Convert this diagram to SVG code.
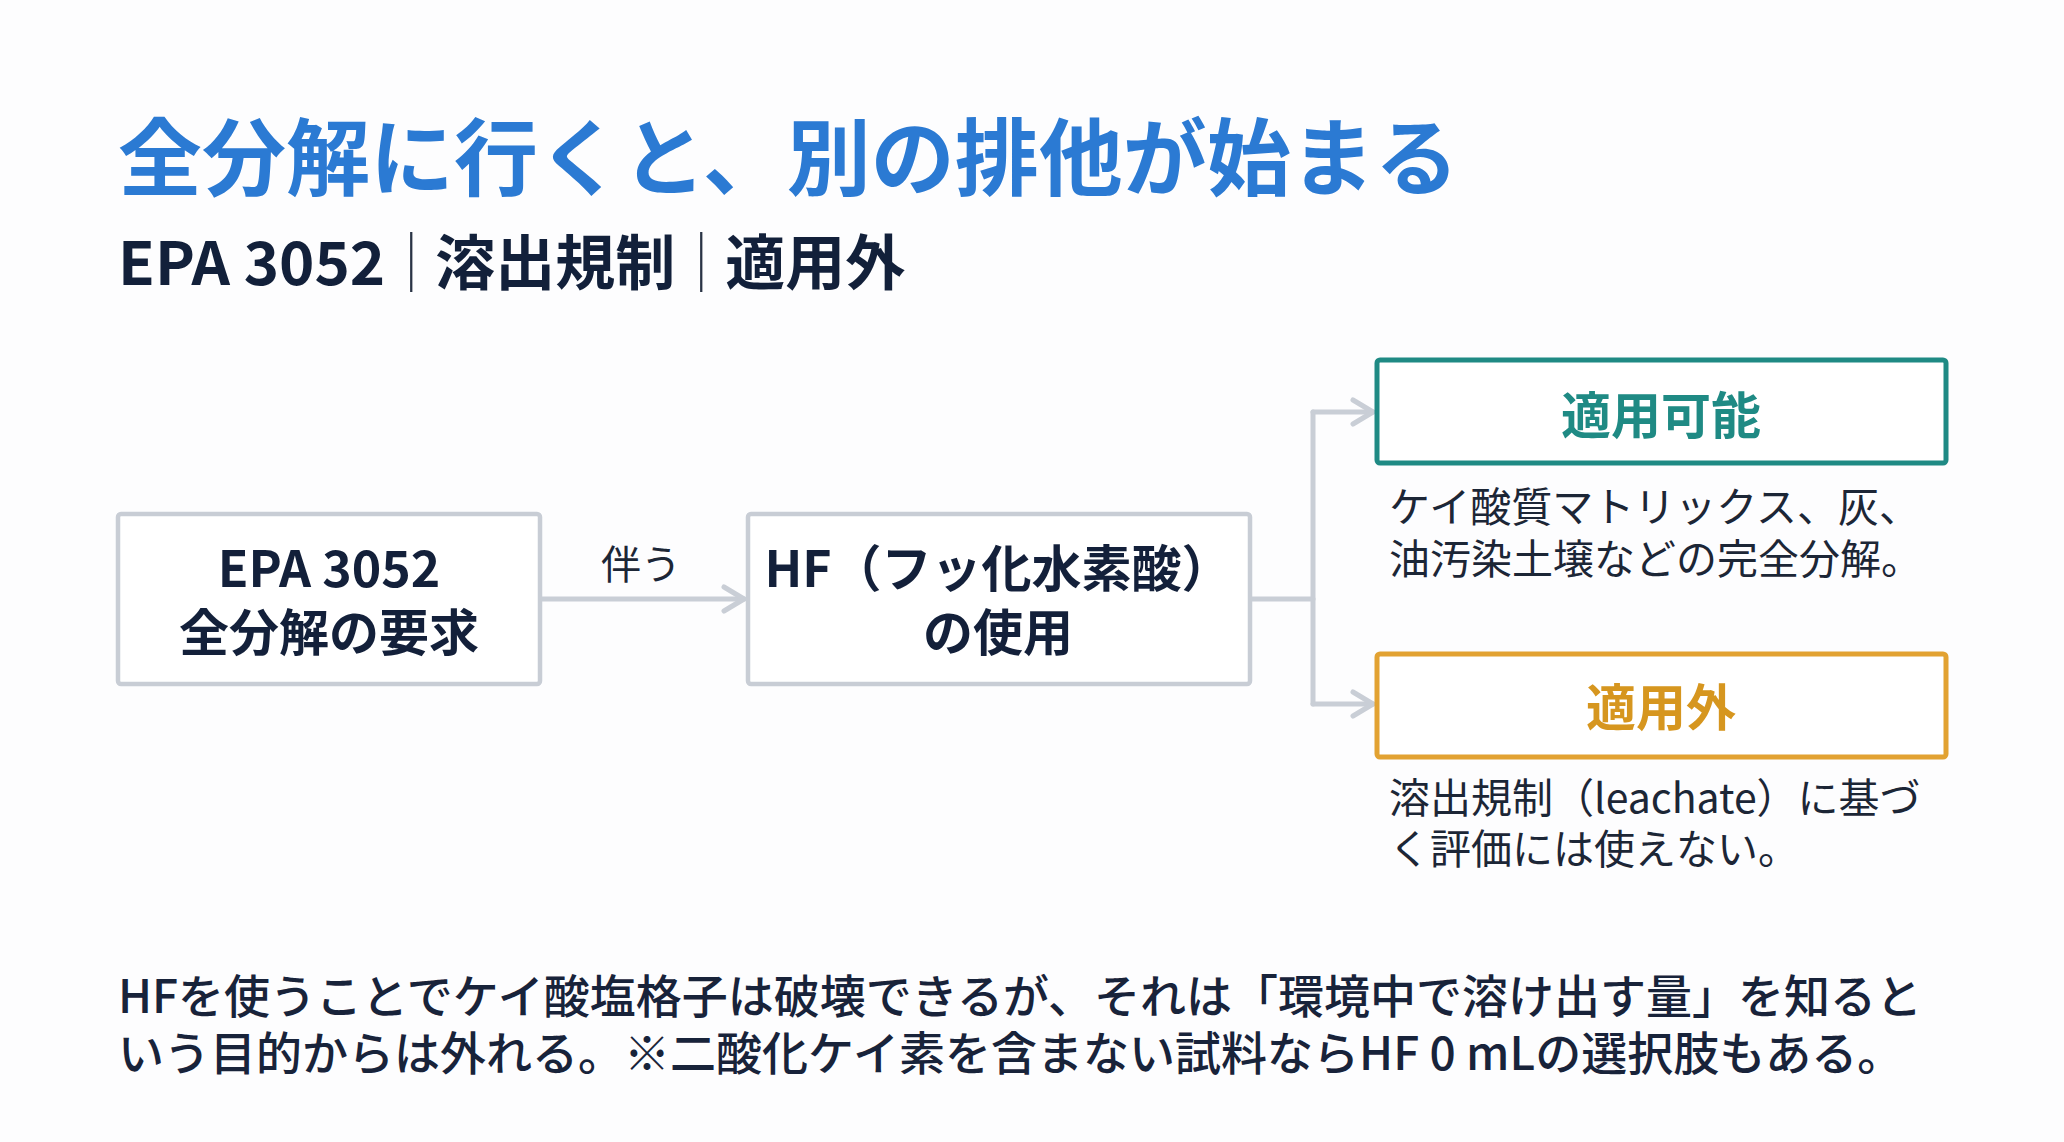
<svg xmlns="http://www.w3.org/2000/svg" width="2064" height="1142" viewBox="0 0 2064 1142">
  <defs>
    <style>
      text { font-family: 'Noto Sans CJK JP', 'Noto Sans', sans-serif; }
      .title { font-size: 84px; font-weight: 700; fill: #2B7AD3; }
      .sub { font-size: 60px; font-weight: 700; fill: #12203A; }
      .sep { font-weight: 300; fill: #2A3446; }
      .box { fill: #FFFFFF; stroke: #C8CDD5; stroke-width: 4.5; }
      .boxText { font-size: 50px; font-weight: 700; fill: #13203A; text-anchor: middle; }
      .label { font-size: 40px; font-weight: 400; fill: #1C2636; text-anchor: middle; }
      .desc { font-size: 41px; font-weight: 400; fill: #1C2636; }
      .body { font-size: 46px; font-weight: 500; fill: #18233A; }
      .conn { fill: none; stroke: #C9CED6; stroke-width: 5; stroke-linecap: round; stroke-linejoin: round; }
    </style>
    <marker id="chev" viewBox="0 0 30 30" refX="26" refY="15" markerWidth="30" markerHeight="30" markerUnits="userSpaceOnUse" orient="auto">
      <path d="M6,3 L26,15 L6,27" fill="none" stroke="#C9CED6" stroke-width="5" stroke-linecap="round" stroke-linejoin="round"/>
    </marker>
  </defs>

  <rect x="0" y="0" width="2064" height="1142" fill="#FDFDFE"/>

  <g id="header">
    <text class="title" x="118" y="189">全分解に行くと、別の排他が始まる</text>
    <text class="sub" x="118" y="285">EPA 3052<tspan class="sep" dx="-4">｜</tspan><tspan dx="-6">溶出規制</tspan><tspan class="sep" dx="-4">｜</tspan><tspan dx="-6">適用外</tspan></text>
  </g>

  <g id="connectors">
    <line class="conn" x1="541" y1="599" x2="744" y2="599" marker-end="url(#chev)"/>
    <path class="conn" d="M1252,599 H1313"/>
    <path class="conn" d="M1313,412 V704"/>
    <line class="conn" x1="1313" y1="412" x2="1373" y2="412" marker-end="url(#chev)"/>
    <line class="conn" x1="1313" y1="704" x2="1373" y2="704" marker-end="url(#chev)"/>
    <text class="label" x="641" y="579">伴う</text>
  </g>

  <g id="node-epa">
    <rect class="box" x="118" y="514" width="422" height="170" rx="3"/>
    <text class="boxText" x="329" y="587">EPA 3052<tspan x="329" dy="64">全分解の要求</tspan></text>
  </g>

  <g id="node-hf">
    <rect class="box" x="748" y="514" width="502" height="170" rx="3"/>
    <text class="boxText" x="998" y="587">HF（フッ化水素酸）<tspan x="998" dy="64">の使用</tspan></text>
  </g>

  <g id="node-applicable">
    <rect x="1377" y="360" width="569" height="103" rx="3" fill="#FFFFFF" stroke="#1F8A84" stroke-width="5"/>
    <text class="boxText" x="1661" y="434" style="fill:#1F8A84">適用可能</text>
    <text class="desc" x="1389" y="522">ケイ酸質マトリックス、灰、<tspan x="1389" dy="52">油汚染土壌などの完全分解。</tspan></text>
  </g>

  <g id="node-notapplicable">
    <rect x="1377" y="654" width="569" height="103" rx="3" fill="#FFFFFF" stroke="#E2A232" stroke-width="5"/>
    <text class="boxText" x="1661" y="726" style="fill:#D6961F">適用外</text>
    <text class="desc" x="1389" y="813">溶出規制（leachate）に基づ<tspan x="1389" dy="51">く評価には使えない。</tspan></text>
  </g>

  <g id="footer">
    <text class="body" x="118" y="1013">HFを使うことでケイ酸塩格子は破壊できるが、それは「環境中で溶け出す量」を知ると<tspan x="118" dy="57">いう目的からは外れる。※二酸化ケイ素を含まない試料ならHF 0 mLの選択肢もある。</tspan></text>
  </g>
</svg>
